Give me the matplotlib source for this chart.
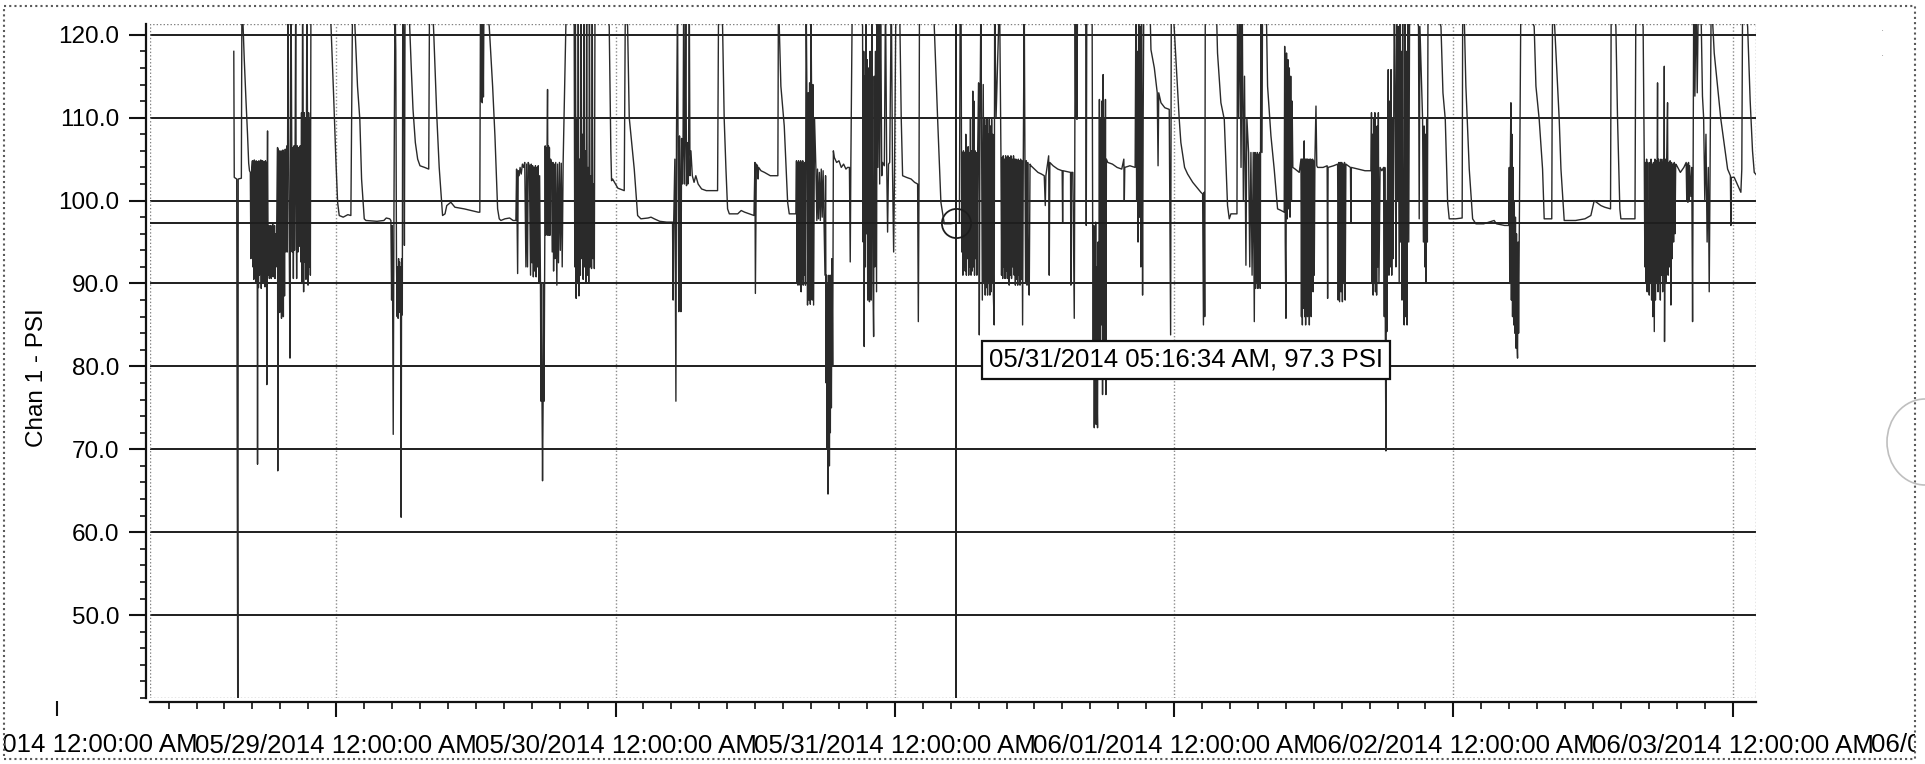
import datetime as dt
import matplotlib
matplotlib.use('Agg')
import matplotlib.pyplot as plt
import matplotlib.transforms as mtransforms
from matplotlib.patches import Rectangle, Arc
from matplotlib.ticker import MultipleLocator, FixedLocator, FuncFormatter

plt.rcParams['font.family'] = ['Liberation Sans', 'DejaVu Sans']

START = dt.datetime(2014, 5, 28)

may28 = [
    (15.20, 118.0), (15.24, 102.8), (15.45, 102.6), (15.55, 30.0), (15.58, 102.6),
    (15.85, 102.7), (15.90, 125.0), (16.00, 121.0), (16.10, 117.0), (16.25, 112.0),
    (16.38, 108.0), (16.48, 104.5), (16.55, 103.6), (16.62, 103.4),
    (16.67, 93.0), (16.72, 103.2), (16.80, 104.8), (16.84, 92.0), (16.88, 104.6),
    (16.92, 90.5), (16.96, 104.9), (17.00, 93.5), (17.04, 104.5), (17.08, 90.2),
    (17.12, 104.8), (17.16, 92.0), (17.20, 104.7), (17.24, 68.2), (17.28, 104.6),
    (17.32, 89.5), (17.36, 104.8), (17.40, 91.0), (17.44, 104.6), (17.48, 94.0),
    (17.52, 104.9), (17.56, 89.4), (17.60, 104.5), (17.64, 92.5), (17.68, 104.8),
    (17.72, 90.0), (17.76, 104.6), (17.80, 93.0), (17.84, 104.7), (17.88, 89.6),
    (17.92, 104.8), (17.96, 95.0), (18.00, 104.6), (18.04, 77.8), (18.08, 104.5),
    (18.10, 108.4), (18.14, 96.0), (18.18, 91.0), (18.22, 97.0), (18.26, 90.6),
    (18.30, 96.5), (18.34, 91.5), (18.38, 97.0), (18.42, 90.6), (18.46, 96.8),
    (18.50, 92.0), (18.54, 97.2), (18.58, 90.8), (18.62, 96.5), (18.66, 91.2),
    (18.70, 97.0), (18.74, 90.6), (18.78, 96.0), (18.84, 92.0), (18.90, 97.5),
    (18.96, 106.4), (18.98, 67.4), (19.02, 106.2), (19.06, 87.8), (19.10, 106.0),
    (19.14, 86.5), (19.18, 105.8), (19.22, 88.0), (19.26, 106.0), (19.30, 85.8),
    (19.34, 105.9), (19.38, 87.0), (19.42, 106.1), (19.46, 86.0), (19.50, 105.8),
    (19.56, 88.5), (19.62, 106.2), (19.68, 93.8), (19.75, 106.6), (19.80, 93.8),
    (19.86, 125.0), (19.92, 106.6), (19.97, 94.0), (20.03, 81.0), (20.08, 106.5),
    (20.12, 125.0), (20.18, 106.6), (20.22, 93.8), (20.27, 106.4), (20.32, 90.6),
    (20.37, 106.6), (20.42, 94.0), (20.47, 106.5), (20.52, 125.0), (20.56, 100.0),
    (20.60, 90.6), (20.66, 106.6), (20.72, 93.8), (20.78, 106.4), (20.84, 94.5),
    (20.90, 106.6), (20.96, 92.6), (21.02, 110.6), (21.06, 90.0), (21.11, 125.0),
    (21.16, 110.0), (21.20, 89.0), (21.25, 110.6), (21.30, 92.6), (21.35, 109.8),
    (21.40, 90.5), (21.48, 125.0), (21.53, 110.4), (21.58, 89.8), (21.63, 110.6),
    (21.68, 92.0), (21.73, 110.0), (21.78, 91.0), (21.83, 125.0), (23.00, 126.0),
    (23.54, 121.5), (23.77, 113.0), (23.97, 105.0),
]

may29 = [
    (24.12, 99.8), (24.26, 98.2), (24.60, 98.0), (25.00, 98.3), (25.26, 98.2),
    (25.41, 125.0), (25.61, 121.0), (25.83, 113.8), (26.03, 109.8), (26.18, 102.6),
    (26.41, 97.8), (26.55, 97.6), (27.50, 97.5), (28.10, 97.6), (28.30, 97.9),
    (28.60, 97.8), (28.70, 97.6),
    (28.76, 88.0), (28.82, 97.0), (28.90, 71.8), (28.96, 98.0), (29.05, 125.0),
    (29.12, 118.0), (29.18, 92.6), (29.24, 86.0), (29.28, 92.0), (29.32, 85.8),
    (29.36, 93.0), (29.40, 87.0), (29.44, 92.6), (29.48, 86.5), (29.52, 92.0),
    (29.58, 61.8), (29.62, 93.0), (29.68, 86.2), (29.72, 125.0), (29.80, 120.0),
    (29.86, 94.6), (29.92, 125.0),
    (30.30, 121.5), (30.45, 116.0), (30.60, 111.0), (30.80, 107.0), (31.00, 105.0),
    (31.20, 104.2), (31.60, 104.0), (31.95, 103.8), (32.02, 125.0), (32.36, 121.0),
    (32.65, 110.0), (32.85, 104.0), (33.14, 98.2), (33.35, 98.4), (33.50, 99.4),
    (33.85, 99.8), (34.20, 99.2), (35.00, 99.0), (35.60, 98.8), (36.20, 98.6),
    (36.34, 98.6), (36.40, 125.0), (36.45, 112.0), (36.50, 125.0), (36.55, 111.8),
    (36.60, 125.0), (36.65, 112.5), (36.70, 125.0), (37.15, 121.0), (37.44, 113.8),
    (37.64, 107.8), (37.87, 99.0), (38.01, 97.8), (38.15, 97.6), (38.50, 97.8),
    (38.90, 97.9), (39.20, 97.6), (39.44, 97.6),
    (39.50, 103.8), (39.59, 91.2), (39.64, 103.6), (39.72, 103.0), (39.80, 104.0),
    (39.90, 103.2), (40.00, 104.4), (40.10, 104.0), (40.20, 104.6), (40.30, 92.0),
    (40.36, 104.4), (40.44, 92.0), (40.50, 104.6), (40.60, 104.2), (40.70, 91.0),
    (40.76, 104.4), (40.82, 92.5), (40.88, 104.2), (40.94, 90.8), (41.00, 104.0),
    (41.06, 91.5), (41.12, 104.2), (41.18, 90.8), (41.24, 104.0), (41.30, 92.0),
    (41.36, 104.2), (41.42, 90.2), (41.48, 103.0), (41.55, 90.2), (41.60, 75.8),
    (41.64, 90.0), (41.68, 77.0), (41.73, 66.2), (41.78, 76.0), (41.82, 90.0),
    (41.86, 75.8), (41.92, 95.8), (41.96, 106.6), (42.00, 95.8), (42.04, 106.4),
    (42.08, 96.0), (42.12, 106.6), (42.16, 113.4), (42.20, 95.8), (42.24, 106.6),
    (42.28, 96.5), (42.32, 106.4), (42.36, 95.8), (42.42, 105.0), (42.50, 104.6),
    (42.56, 93.8), (42.62, 104.6), (42.68, 91.5), (42.74, 104.4), (42.80, 93.0),
    (42.86, 104.6), (42.96, 89.8), (43.02, 104.4), (43.10, 92.5), (43.18, 104.6),
    (43.26, 94.0), (43.34, 104.5), (43.42, 92.0), (43.50, 104.6), (43.79, 125.0),
    (44.20, 126.0),
    (44.45, 121.0), (44.50, 92.0), (44.55, 125.0), (44.62, 88.2), (44.68, 110.0),
    (44.74, 90.0), (44.80, 125.0), (44.86, 88.5), (44.92, 105.0), (44.98, 91.0),
    (45.04, 125.0), (45.10, 93.0), (45.16, 108.0), (45.22, 90.5), (45.28, 125.0),
    (45.34, 92.0), (45.40, 106.0), (45.46, 90.2), (45.52, 125.0), (45.58, 91.0),
    (45.64, 104.0), (45.70, 90.2), (45.76, 125.0), (45.82, 92.0), (45.88, 103.0),
    (45.94, 91.8), (46.00, 125.0), (46.06, 93.0), (46.12, 102.0), (46.18, 91.8),
    (46.24, 125.0), (47.00, 126.0), (47.46, 121.0), (47.60, 106.0), (47.66, 102.4),
    (47.75, 102.6),
]

may30 = [
    (48.00, 102.0), (48.20, 101.5), (48.75, 101.2), (48.85, 125.0), (49.04, 121.0),
    (49.18, 110.0), (49.61, 103.8), (49.90, 98.2), (50.18, 97.8), (50.80, 97.9),
    (51.05, 98.0), (51.33, 97.8), (51.80, 97.5), (52.40, 97.4), (52.90, 97.4),
    (52.95, 88.0), (53.00, 97.4), (53.10, 105.0), (53.19, 75.8), (53.24, 107.8),
    (53.33, 125.0), (53.38, 104.0), (53.44, 86.6), (53.50, 107.8), (53.56, 101.8),
    (53.62, 86.6), (53.68, 107.5), (53.74, 102.0), (53.80, 106.0), (53.86, 125.0),
    (53.92, 102.0), (53.98, 107.8), (54.04, 125.0), (54.10, 101.8), (54.16, 107.0),
    (54.22, 102.0), (54.28, 106.0), (54.34, 125.0), (54.40, 103.0), (54.48, 106.0),
    (54.60, 103.0), (54.75, 102.2), (54.90, 103.0), (55.10, 102.0), (55.40, 101.4),
    (55.80, 101.2), (56.77, 101.2), (56.86, 125.0), (57.20, 121.0), (57.34, 109.8),
    (57.49, 103.8), (57.63, 99.0), (57.78, 98.4), (58.50, 98.4), (58.80, 98.8),
    (59.10, 98.6), (59.90, 98.2), (59.98, 104.6), (60.02, 88.8), (60.10, 104.4),
    (60.20, 104.2), (60.25, 102.6), (60.30, 104.0), (60.50, 103.6), (60.80, 103.4),
    (61.30, 103.0), (61.95, 103.0), (62.00, 125.0), (62.07, 121.0), (62.21, 113.8),
    (62.50, 109.0), (62.79, 99.8), (62.93, 98.4), (63.50, 98.4),
    (63.55, 104.8), (63.59, 90.0), (63.64, 104.6), (63.68, 89.8), (63.73, 104.8),
    (63.77, 91.0), (63.82, 104.6), (63.86, 89.8), (63.91, 104.8), (63.95, 89.0),
    (64.00, 104.6), (64.04, 90.5), (64.09, 104.8), (64.13, 89.8), (64.18, 104.4),
    (64.22, 91.0), (64.27, 104.6), (64.32, 89.8), (64.38, 125.0), (64.44, 114.2),
    (64.50, 87.4), (64.56, 113.0), (64.62, 88.0), (64.68, 114.2), (64.74, 87.5),
    (64.79, 125.0), (64.85, 112.0), (64.90, 88.0), (64.96, 114.0), (65.02, 87.4),
    (65.10, 110.0), (65.22, 103.8), (65.30, 97.6), (65.36, 103.8), (65.44, 97.8),
    (65.52, 103.4), (65.60, 97.6), (65.68, 103.8), (65.76, 98.0), (65.84, 103.6),
    (65.92, 97.6), (66.00, 91.0), (66.05, 103.0), (66.10, 78.0), (66.14, 91.0),
    (66.18, 70.0), (66.22, 90.0), (66.26, 64.6), (66.30, 80.0), (66.34, 91.0),
    (66.38, 68.0), (66.42, 85.0), (66.46, 72.0), (66.50, 91.0), (66.55, 75.0),
    (66.60, 93.0), (66.66, 80.0), (66.72, 106.0), (66.80, 105.2), (67.00, 104.6),
    (67.20, 104.8), (67.40, 104.0), (67.60, 104.4), (67.80, 103.8), (67.94, 104.0),
    (68.10, 104.0), (68.17, 92.6), (68.22, 104.0), (68.35, 125.0), (69.00, 126.0),
    (69.23, 121.0), (69.28, 95.0), (69.33, 118.0), (69.37, 82.4), (69.42, 115.0),
    (69.47, 92.0), (69.52, 125.0), (69.57, 96.0), (69.62, 117.0), (69.67, 88.0),
    (69.72, 116.0), (69.77, 104.0), (69.82, 87.8), (69.87, 118.0), (69.92, 100.0),
    (69.97, 88.0), (70.02, 125.0), (70.07, 104.0), (70.12, 90.0), (70.18, 83.6),
    (70.23, 115.0), (70.28, 92.0), (70.33, 118.0), (70.38, 104.0), (70.43, 89.0),
    (70.48, 125.0), (70.55, 104.0), (70.62, 125.0), (70.70, 102.0), (70.78, 125.0),
    (70.88, 103.0), (70.95, 104.6), (71.10, 104.2), (71.20, 125.0), (71.30, 104.6),
    (71.38, 96.2), (71.46, 104.4), (71.56, 104.6), (71.70, 125.0), (71.80, 104.0),
    (71.90, 93.8), (71.98, 104.0),
]

may31 = [
    (72.10, 125.0), (72.40, 125.0), (72.55, 110.0), (72.67, 103.0), (73.00, 102.8),
    (73.40, 102.6), (73.70, 102.2), (73.96, 102.0), (74.02, 85.4), (74.08, 102.0),
    (74.12, 125.0), (75.30, 125.0), (75.39, 121.0), (75.68, 109.8), (75.96, 99.8),
    (76.25, 97.2), (76.80, 97.2), (77.20, 97.3), (77.55, 97.3), (77.62, 125.0),
    (77.70, 121.0), (77.75, 93.8), (77.80, 105.8), (77.85, 91.0), (77.90, 106.0),
    (77.95, 92.0), (78.00, 105.8), (78.05, 91.5), (78.10, 108.0), (78.15, 91.0),
    (78.20, 105.8), (78.25, 93.0), (78.30, 106.5), (78.35, 91.0), (78.40, 105.8),
    (78.45, 92.0), (78.50, 110.0), (78.55, 91.0), (78.60, 106.0), (78.65, 91.5),
    (78.70, 113.2), (78.75, 92.0), (78.80, 112.0), (78.85, 91.0), (78.90, 106.0),
    (78.95, 93.0), (79.00, 105.8), (79.05, 91.0), (79.11, 105.0), (79.20, 114.2),
    (79.26, 83.8), (79.32, 110.0), (79.40, 125.0), (79.46, 105.0), (79.52, 88.0),
    (79.60, 114.0), (79.66, 90.0), (79.72, 109.8), (79.77, 88.6), (79.82, 109.0),
    (79.87, 89.5), (79.92, 109.8), (79.97, 88.6), (80.02, 108.0), (80.07, 90.0),
    (80.12, 109.8), (80.17, 88.6), (80.22, 109.0), (80.27, 89.0), (80.32, 109.8),
    (80.37, 90.0), (80.42, 108.0), (80.47, 88.6), (80.54, 85.0), (80.58, 125.0),
    (80.70, 110.0), (81.00, 125.0), (81.12, 105.4), (81.17, 91.0), (81.22, 105.2),
    (81.27, 90.6), (81.32, 105.4), (81.37, 92.0), (81.42, 105.0), (81.47, 90.6),
    (81.52, 105.4), (81.57, 91.5), (81.62, 105.2), (81.67, 90.6), (81.72, 105.4),
    (81.77, 92.0), (81.83, 89.8), (81.88, 105.2), (81.93, 91.0), (81.98, 105.4),
    (82.03, 90.6), (82.08, 105.0), (82.14, 92.0), (82.20, 105.4), (82.26, 91.0),
    (82.31, 105.0), (82.36, 89.8), (82.41, 105.0), (82.46, 90.5), (82.51, 104.8),
    (82.56, 89.8), (82.61, 105.0), (82.66, 91.0), (82.71, 104.8), (82.76, 89.8),
    (82.81, 105.0), (82.86, 90.5), (82.92, 104.8), (82.98, 85.0), (83.04, 105.0),
    (83.12, 125.0), (83.18, 105.0), (83.24, 90.0), (83.30, 104.8), (83.36, 89.8),
    (83.42, 104.6), (83.48, 90.5), (83.55, 88.6), (83.62, 104.4), (83.70, 104.2),
    (84.00, 103.8), (84.30, 103.4), (84.60, 103.2), (84.84, 103.0), (84.93, 99.4),
    (84.98, 103.0), (85.22, 105.4), (85.27, 91.0), (85.32, 104.6), (85.60, 104.2),
    (86.00, 103.8), (86.38, 103.6), (86.42, 97.4), (86.46, 103.6), (86.80, 103.5),
    (87.10, 103.4), (87.13, 89.8), (87.18, 103.4), (87.30, 103.4), (87.42, 85.8),
    (87.46, 103.0), (87.50, 125.0), (87.55, 110.0), (87.60, 125.0), (87.65, 109.8),
    (87.70, 125.0), (88.40, 125.0), (88.45, 97.0), (88.50, 125.0), (88.95, 125.0),
    (89.00, 97.4), (89.05, 80.0), (89.10, 97.0), (89.14, 72.6), (89.18, 90.0),
    (89.22, 75.0), (89.26, 97.4), (89.30, 73.0), (89.34, 92.0), (89.38, 76.0),
    (89.42, 72.6), (89.46, 95.0), (89.52, 80.0), (89.58, 112.2), (89.63, 82.0),
    (89.68, 110.0), (89.73, 85.0), (89.78, 112.0), (89.85, 76.6), (89.90, 115.2),
    (89.95, 80.0), (90.00, 110.0), (90.05, 81.8), (90.10, 112.2), (90.14, 76.6),
    (90.18, 105.0), (90.30, 104.6), (90.70, 104.4), (91.10, 104.0), (91.50, 103.8),
    (91.68, 105.0), (91.72, 100.0), (91.76, 104.0), (92.20, 104.2), (92.65, 104.0),
    (92.72, 125.0), (92.78, 100.0), (92.84, 118.0), (92.90, 95.0), (92.96, 125.0),
    (93.02, 98.0), (93.08, 121.0), (93.14, 92.0), (93.20, 125.0), (93.29, 88.6),
    (93.34, 110.0), (93.40, 125.0), (93.90, 125.0), (94.01, 118.2), (94.30, 116.0),
    (94.55, 113.0), (94.62, 104.2), (94.68, 113.0), (94.87, 111.8), (95.20, 111.2),
    (95.58, 111.0), (95.70, 83.8), (95.76, 125.0),
]

jun01 = [
    (96.00, 121.0), (96.44, 109.8), (96.58, 107.0), (96.90, 104.0), (97.16, 103.2),
    (97.60, 102.2), (98.30, 101.0), (98.45, 100.8), (98.52, 85.0), (98.58, 101.0),
    (98.63, 86.0), (98.68, 125.0), (99.60, 125.0), (99.73, 117.8), (100.02, 111.8),
    (100.31, 109.8), (100.59, 99.4), (100.74, 97.8), (100.88, 98.4), (101.40, 98.4),
    (101.45, 125.0), (101.55, 110.0), (101.65, 125.0), (101.75, 104.0), (101.85, 125.0),
    (101.95, 100.0), (102.05, 115.0), (102.17, 92.2), (102.25, 110.0), (102.40, 105.8),
    (102.50, 92.0), (102.60, 105.8), (102.70, 91.0), (102.80, 105.8), (102.89, 85.4),
    (102.95, 105.8), (103.00, 89.4), (103.05, 105.5), (103.10, 90.0), (103.15, 105.8),
    (103.20, 89.4), (103.25, 105.6), (103.30, 90.0), (103.35, 105.8), (103.40, 89.4),
    (103.46, 125.0), (103.55, 105.8), (103.60, 125.0), (103.90, 125.0), (104.03, 113.8),
    (104.32, 107.8), (104.60, 103.8), (104.89, 99.0), (105.20, 98.8), (105.46, 98.6),
    (105.50, 118.6), (105.55, 95.0), (105.61, 85.8), (105.66, 117.8), (105.72, 97.8),
    (105.78, 117.0), (105.84, 99.0), (105.90, 116.0), (105.96, 98.0), (106.02, 115.0),
    (106.08, 100.0), (106.14, 112.0), (106.20, 104.0), (106.40, 103.8), (106.75, 103.4),
    (106.90, 105.0), (106.94, 86.0), (106.98, 105.0), (107.02, 85.0), (107.06, 105.0),
    (107.10, 87.0), (107.14, 105.0), (107.18, 107.2), (107.22, 86.0), (107.26, 105.0),
    (107.30, 85.0), (107.34, 105.0), (107.38, 88.0), (107.42, 105.0), (107.46, 86.0),
    (107.50, 105.0), (107.54, 87.0), (107.58, 104.8), (107.62, 85.0), (107.66, 105.0),
    (107.70, 88.0), (107.74, 105.0), (107.78, 86.0), (107.82, 104.8), (107.86, 90.0),
    (107.90, 105.0), (107.94, 89.0), (107.98, 104.8), (108.04, 91.0), (108.10, 105.0),
    (108.19, 111.4), (108.26, 104.2), (108.33, 104.0), (108.80, 104.0), (109.15, 104.2),
    (109.19, 88.2), (109.23, 104.0), (109.70, 104.2), (110.05, 104.4), (110.10, 88.0),
    (110.16, 104.6), (110.22, 87.8), (110.28, 104.6), (110.34, 89.0), (110.40, 104.6),
    (110.46, 87.8), (110.52, 104.4), (110.58, 90.0), (110.64, 104.6), (110.70, 88.0),
    (110.76, 104.4), (111.15, 104.0), (111.19, 97.4), (111.23, 104.0), (111.80, 103.8),
    (112.40, 103.6), (112.91, 103.6), (112.96, 110.6), (113.00, 90.0), (113.05, 108.0),
    (113.10, 88.6), (113.15, 110.0), (113.20, 90.0), (113.25, 110.6), (113.30, 89.0),
    (113.35, 108.0), (113.40, 88.6), (113.45, 109.0), (113.50, 92.0), (113.55, 110.6),
    (113.60, 90.0), (113.70, 104.0), (113.85, 103.6), (114.00, 104.0), (114.06, 86.0),
    (114.10, 104.0), (114.15, 84.2), (114.20, 69.8), (114.24, 100.0), (114.28, 84.2),
    (114.34, 103.0), (114.40, 115.8), (114.46, 91.0), (114.52, 112.0), (114.58, 92.0),
    (114.64, 115.8), (114.70, 91.0), (114.76, 110.0), (114.82, 93.0), (114.92, 125.0),
    (115.00, 110.0), (115.06, 92.0), (115.12, 125.0), (115.20, 100.0), (115.26, 121.0),
    (115.34, 90.0), (115.40, 125.0), (115.46, 95.0), (115.52, 118.0), (115.58, 88.0),
    (115.64, 125.0), (115.70, 92.0), (115.77, 85.0), (115.83, 125.0), (115.90, 86.0),
    (115.96, 118.0), (116.02, 85.0), (116.08, 125.0), (116.16, 95.0), (116.24, 125.0),
    (116.40, 125.0), (117.00, 121.0), (117.06, 97.8), (117.12, 121.0), (117.35, 109.8),
    (117.42, 95.0), (117.48, 109.0), (117.54, 92.0), (117.60, 108.0), (117.64, 90.2),
    (117.70, 109.8), (117.76, 95.0), (117.82, 125.0), (118.93, 121.0), (119.10, 113.0),
    (119.30, 109.8), (119.50, 99.8), (119.64, 97.8),
]

jun02 = [
    (120.20, 97.8), (120.75, 97.9), (120.80, 125.0), (120.95, 121.0), (121.07, 113.8),
    (121.36, 103.8), (121.65, 97.8), (121.93, 97.2), (122.60, 97.2), (123.50, 97.6),
    (123.70, 97.2), (124.40, 97.0), (124.70, 97.0), (124.76, 97.0), (124.80, 104.0),
    (124.84, 90.0), (124.89, 105.0), (124.94, 111.8), (124.98, 88.0), (125.03, 108.0),
    (125.08, 86.0), (125.13, 104.0), (125.18, 85.0), (125.23, 100.0), (125.28, 84.0),
    (125.33, 98.0), (125.37, 82.2), (125.42, 96.0), (125.46, 83.0), (125.51, 81.0),
    (125.56, 95.0), (125.60, 84.0), (125.80, 125.0), (126.94, 121.0), (127.09, 113.8),
    (127.37, 109.8), (127.66, 103.8), (127.80, 97.8), (128.45, 97.8), (128.52, 125.0),
    (128.70, 121.0), (128.81, 117.8), (129.09, 109.8), (129.24, 103.8), (129.52, 97.6),
    (130.50, 97.6), (131.30, 97.8), (131.81, 98.2), (132.10, 100.0), (132.67, 99.4),
    (133.00, 99.2), (133.50, 99.0), (133.56, 125.0), (133.96, 121.0), (134.10, 110.0),
    (134.30, 99.0), (134.39, 97.8), (135.60, 97.8), (135.68, 125.0), (136.30, 121.0),
    (136.40, 104.6), (136.45, 92.0), (136.50, 104.6), (136.55, 90.0), (136.60, 105.0),
    (136.65, 89.0), (136.70, 104.6), (136.75, 91.0), (136.83, 88.6), (136.88, 104.6),
    (136.93, 90.0), (136.98, 105.0), (137.03, 88.0), (137.08, 104.4), (137.13, 86.0),
    (137.18, 104.6), (137.26, 84.2), (137.31, 105.0), (137.36, 88.0), (137.41, 104.8),
    (137.46, 90.0), (137.54, 114.2), (137.58, 89.0), (137.63, 105.0), (137.68, 90.0),
    (137.73, 104.6), (137.78, 88.0), (137.83, 105.0), (137.88, 91.0), (137.93, 104.6),
    (137.98, 89.0), (138.03, 105.0), (138.08, 91.0), (138.12, 116.2), (138.14, 83.0),
    (138.20, 105.0), (138.26, 90.0), (138.32, 104.6), (138.40, 111.8), (138.45, 91.0),
    (138.50, 104.6), (138.56, 92.0), (138.62, 104.8), (138.69, 87.4), (138.74, 104.6),
    (138.80, 93.0), (138.86, 104.4), (138.92, 95.0), (138.98, 104.6), (139.04, 96.0),
    (139.10, 104.4), (139.20, 104.2), (139.50, 103.4), (139.80, 104.0), (140.00, 104.6),
    (140.05, 100.0), (140.10, 104.4), (140.15, 99.8), (140.20, 104.6), (140.25, 100.0),
    (140.30, 104.2), (140.40, 100.5), (140.48, 104.0), (140.55, 85.4), (140.60, 104.0),
    (140.65, 125.0), (140.75, 112.6), (140.85, 125.0), (140.95, 113.0), (141.05, 125.0),
    (141.30, 121.0), (141.40, 112.6), (141.50, 110.0), (141.60, 100.0), (141.70, 108.0),
    (141.80, 95.0), (141.90, 104.0), (141.98, 89.0), (142.05, 103.0), (142.15, 125.0),
    (142.41, 117.8), (142.98, 109.8), (143.56, 103.8), (143.80, 103.0), (143.84, 97.0),
    (143.88, 102.8),
]

jun03 = [
    (144.13, 102.8), (144.70, 101.0), (144.78, 103.8), (144.85, 125.0), (145.28, 121.0),
    (145.50, 112.0), (145.70, 106.0), (145.85, 103.4), (146.10, 103.0),
]

# Cursor / Tooltip
cursor_time = dt.datetime(2014, 5, 31, 5, 16, 34)
cursor_psi = 97.3

y_major = [50, 60, 70, 80, 90, 100, 110, 120]
day_ticks = [0, 24, 48, 72, 96, 120, 144, 168]

data = may28 + may29 + may30 + may31 + jun01 + jun02 + jun03
hours = [p[0] for p in data]
psi = [p[1] for p in data]
cursor_h = (cursor_time - START).total_seconds() / 3600


def fmt_time(h, pos=None):
    t = START + dt.timedelta(hours=h)
    return t.strftime('%m/%d/%Y %I:%M:%S %p')


W, H = 1925, 764
fig = plt.figure(figsize=(W / 100, H / 100), dpi=100)
ax = fig.add_axes([150 / W, 66 / H, 1606 / W, 674 / H])

DARK = '#1e1e1e'
ax.plot(hours, psi, color='#2a2a2a', lw=1.0, zorder=3)

ax.set_xlim(8.0, 146.0)
ax.set_ylim(40, 121.3)

# Gitter
ax.xaxis.set_major_locator(MultipleLocator(24))
ax.xaxis.set_minor_locator(MultipleLocator(2.4))
ax.xaxis.set_major_formatter(FuncFormatter(fmt_time))
ax.yaxis.set_major_locator(FixedLocator(y_major))
ax.yaxis.set_minor_locator(MultipleLocator(2))
ax.yaxis.set_major_formatter(FuncFormatter(lambda v, p: f'{v:.1f}'))
ax.grid(axis='y', which='major', color=DARK, lw=1.4)
ax.grid(axis='x', which='major', color='0.55', lw=1.0, ls=(0, (1, 1.5)))
ax.set_axisbelow(True)

for side in ['top', 'right']:
    ax.spines[side].set_visible(False)
for side in ['left', 'bottom']:
    ax.spines[side].set_position(('outward', 3))
    ax.spines[side].set_linewidth(1.6)
    ax.spines[side].set_color('#111')

ax.add_patch(Rectangle((0, 0), 1, 1, transform=ax.transAxes, fill=False,
                       ec='0.5', lw=1.0, ls=(0, (1, 1.5)), zorder=1))

ax.tick_params(axis='y', which='major', length=12, width=1.5, labelsize=17.5,
               pad=7, color='#111')
ax.tick_params(axis='y', which='minor', length=4, width=1.2, color='#111')
ax.tick_params(axis='x', which='major', length=11, width=1.5, labelsize=18.6,
               pad=12, color='#111')
ax.tick_params(axis='x', which='minor', length=5, width=1.2, color='#111')

# Tick-Beschriftungen ausserhalb des sichtbaren Bereichs (05/28, 06/04)
trans = mtransforms.blended_transform_factory(ax.transData, ax.transAxes)
tick_tr = mtransforms.offset_copy(trans, fig=fig, y=-3, units='dots')
lab_tr = mtransforms.offset_copy(trans, fig=fig, y=-(3 + 11 / 0.72 + 12 / 0.72), units='dots')
x0, x1 = ax.get_xlim()
for h in day_ticks:
    if x0 <= h <= x1:
        continue
    ax.plot([h], [0], marker=3, ms=11, mew=1.5, color='#111',
            transform=tick_tr, clip_on=False)
    ax.text(h, 0, fmt_time(h), transform=lab_tr, ha='center', va='top',
            fontsize=18.6, clip_on=False)

# Fadenkreuz und Tooltip
ax.axhline(cursor_psi, color=DARK, lw=1.4, zorder=4)
ax.axvline(cursor_h, color=DARK, lw=1.4, zorder=4)
ax.plot([cursor_h], [cursor_psi], 'o', ms=21, mfc='none', mec=DARK, mew=1.3, zorder=5)
tip = cursor_time.strftime('%m/%d/%Y %I:%M:%S %p') + f', {cursor_psi:.1f} PSI'
ax.annotate(tip, xy=(cursor_h, cursor_psi), xytext=(33, -137),
            textcoords='offset pixels', ha='left', va='center', fontsize=18.5,
            bbox=dict(boxstyle='square,pad=0.28', fc='white', ec='#111', lw=1.6),
            zorder=6)

fig.text(37 / W, 1 - 378 / H, 'Chan 1 - PSI', rotation=90, ha='center',
         va='center', fontsize=17.5)

# Rand des Scans
fig.add_artist(Rectangle((0, 0), 4 / W, 1, transform=fig.transFigure,
                         fc='white', ec='none', zorder=10))
fig.add_artist(Rectangle((1915 / W, 0), 10 / W, 1, transform=fig.transFigure,
                         fc='white', ec='none', zorder=10))
fig.add_artist(Rectangle((4 / W, 5 / H), 1911 / W, 753 / H, transform=fig.transFigure,
                         fill=False, ec='0.35', lw=1.5, ls=(0, (1, 1.5)), zorder=11))
fig.add_artist(Arc((19.25, 3.22), 0.76, 0.86, theta1=90, theta2=270,
                   transform=fig.dpi_scale_trans, color='0.75', lw=1.2, zorder=11))
fig.text(1883 / W, 1 - 28 / H, '.', color='0.6', fontsize=8, ha='center', va='center')
fig.text(1883 / W, 1 - 53 / H, '.', color='0.6', fontsize=8, ha='center', va='center')

fig.savefig('out.png', dpi=100)
